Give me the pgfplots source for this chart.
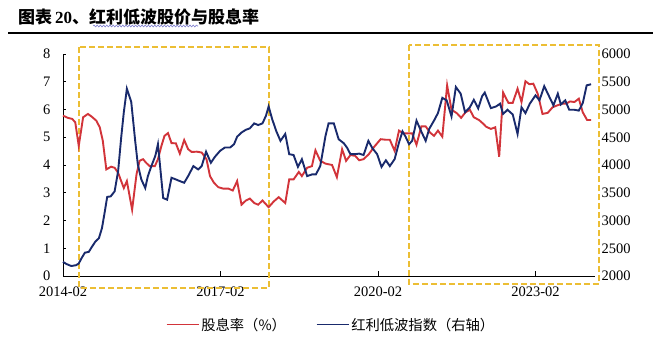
\documentclass[border=0pt]{standalone}
\usepackage{fontspec}
\setmainfont{Liberation Serif}
\newfontfamily\cjk{Noto Sans CJK SC}
\usepackage{pgfplots}
\pgfplotsset{compat=1.18}
\usepackage{pgfplotstable}
\usetikzlibrary{decorations.pathmorphing}
\definecolor{redline}{RGB}{210,52,58}
\definecolor{blueline}{RGB}{25,42,108}
\definecolor{boxorange}{RGB}{236,190,52}

\pgfplotstableread{
m y
0 5.78
1.1 5.70
2.1 5.66
2.8 5.54
3.6 4.69
4.6 5.72
5.7 5.84
6.5 5.75
7.6 5.60
8.4 5.36
9.1 4.87
9.9 3.84
11.0 3.94
11.8 3.90
12.6 3.72
13.3 3.42
13.9 3.17
14.6 3.42
15.8 2.39
16.8 3.66
17.5 4.15
18.3 4.21
19.0 4.08
19.8 3.96
21.0 3.96
21.7 4.21
22.5 4.69
23.2 5.05
24.0 5.15
24.8 4.79
25.8 4.78
26.7 4.41
27.7 4.90
28.6 4.57
29.4 4.47
30.6 4.48
31.7 4.45
32.8 4.21
33.6 3.60
34.5 3.36
35.5 3.20
36.6 3.15
37.8 3.15
38.8 3.08
39.8 3.42
40.8 2.57
41.8 2.72
42.7 2.79
43.7 2.63
44.6 2.57
45.6 2.72
47.0 2.48
48.2 2.69
49.3 2.84
50.8 2.63
51.7 3.48
52.7 3.48
53.9 3.75
54.6 3.60
55.8 3.90
56.9 3.96
57.7 4.53
58.8 4.15
60.0 4.05
61.5 4.00
62.6 3.56
63.8 4.57
64.7 4.15
65.7 4.36
66.8 4.33
67.7 4.17
68.7 4.21
69.9 4.39
71.1 4.65
72.6 4.93
73.8 4.91
74.7 4.91
75.8 4.51
76.8 5.24
77.8 5.14
78.7 5.14
79.8 5.14
80.8 4.73
81.9 5.39
82.9 5.39
83.9 5.17
84.8 5.05
85.7 5.24
86.7 5.02
87.8 6.87
88.8 5.99
90.0 5.87
91.0 5.70
92.0 5.90
93.0 5.99
93.9 5.72
95.1 5.62
96.1 5.48
96.7 5.38
97.8 5.30
98.8 5.36
99.7 4.30
100.6 6.61
101.8 6.24
102.8 6.24
103.9 6.75
104.8 6.27
105.7 7.02
106.6 6.91
107.5 6.93
108.5 6.57
109.6 5.84
110.8 5.88
111.9 6.08
113.0 6.15
114.1 6.21
115.0 6.21
115.9 6.29
116.9 6.27
117.9 6.39
118.8 5.90
119.8 5.62
120.7 5.62
}\yieldtable

\pgfplotstableread{
m y
0 2255
0.8 2215
1.9 2180
3.0 2195
3.6 2225
4.2 2315
5.0 2420
5.9 2435
6.6 2525
7.4 2620
8.2 2680
8.9 2860
9.5 3135
10.1 3425
10.9 3435
11.8 3525
12.6 3890
13.3 4495
13.9 4950
14.6 5375
15.6 5135
16.5 4435
17.1 4010
17.9 3740
18.8 3585
19.4 3800
20.2 3980
21.1 4165
21.7 4375
22.9 3405
23.8 3375
24.8 3770
25.8 3740
26.7 3710
27.7 3680
28.6 3800
29.8 3980
30.9 3920
31.7 3980
32.7 4240
33.8 4040
34.7 4145
35.9 4255
37.0 4315
38.2 4315
39.1 4375
39.8 4510
40.8 4585
41.8 4635
42.7 4660
43.7 4750
44.6 4720
45.6 4750
46.4 4890
47.0 5055
47.8 4830
48.7 4620
49.7 4435
50.8 4560
51.7 4195
52.7 4180
53.7 3965
54.6 4105
55.8 3800
56.9 3830
57.8 3830
58.8 3980
60.0 4525
60.7 4750
61.9 4750
63.0 4465
64.2 4390
64.9 4315
65.7 4195
66.7 4195
67.7 4205
68.7 4180
69.8 4435
70.7 4305
71.8 4195
72.8 3965
73.8 4085
74.7 3980
75.8 4105
76.8 4405
77.6 4605
78.3 4510
79.1 4375
79.8 4435
80.8 4800
81.8 4620
82.9 4435
83.7 4650
84.8 4800
85.7 4935
86.7 5210
87.7 5165
88.8 4875
89.8 5405
90.9 5285
91.9 4950
93.0 5040
93.9 5175
94.9 5020
95.8 5240
96.4 5305
97.8 5025
99.0 5055
99.9 5105
100.6 4920
101.6 4995
102.8 4910
103.9 4560
104.8 5040
105.7 4935
106.7 5105
108.0 5255
108.9 5165
110.0 5420
111.0 5255
112.1 5075
113.1 5285
113.8 5090
114.8 5165
115.7 4995
116.9 4995
117.9 4980
118.8 5115
119.7 5435
120.7 5455
}\indextable

\begin{document}
\begin{tikzpicture}
\path[use as bounding box] (0,0) rectangle (661bp,353bp);
% title
\node[anchor=west, inner sep=0pt, font=\fontsize{17bp}{20bp}\selectfont] at (18bp,336bp)
  {{\cjk\bfseries 图表}\hspace{3bp}{\bfseries 20}{\cjk\bfseries 、红利低波股价与股息率}};
\draw[line width=0.6bp, color=blue!45!gray!70, decorate, decoration={snake, amplitude=0.9bp, segment length=3.2bp}]
  (93bp,327bp) -- (198bp,327bp);
\draw[line width=1.2bp, black] (8bp,320bp) -- (653bp,320bp);

\begin{axis}[
  at={(63bp,77bp)}, anchor=south west,
  scale only axis, width=532bp, height=222bp,
  xmin=0, xmax=121.6, ymin=0, ymax=8,
  axis x line*=bottom, axis y line*=left,
  axis line style={line width=0.9bp, black},
  tick align=inside,
  xtick={0,36,72,108},
  xticklabels={2014-02,2017-02,2020-02,2023-02},
  ytick={0,1,...,8},
  xtick style={/pgfplots/major tick length=5bp, line width=0.8bp, black},
  ytick style={/pgfplots/major tick length=3bp, line width=0.8bp, black},
  /pgf/number format/assume math mode=true,
  ticklabel style={font=\fontsize{14.5bp}{16bp}\selectfont},
  yticklabel style={xshift=-9bp},
  xticklabel style={yshift=-7bp},
  clip=false,
]
\draw[boxorange, line width=2bp, dash pattern=on 6bp off 3bp]
  (axis cs:3.66,8.25) rectangle (axis cs:47.1,-0.43);
\draw[boxorange, line width=2bp, dash pattern=on 6bp off 3bp]
  (axis cs:79.1,8.32) rectangle (axis cs:122.5,-0.30);
\addplot[redline, line width=1.9bp] table[x=m,y=y] {\yieldtable};
\end{axis}

\begin{axis}[
  at={(63bp,77bp)}, anchor=south west,
  scale only axis, width=532bp, height=222bp,
  xmin=0, xmax=121.6, ymin=2000, ymax=6000,
  axis x line=none, axis y line*=right,
  y axis line style={draw=none},
  ytick={2000,2500,...,6000},
  ytick style={draw=none},
  /pgf/number format/assume math mode=true,
  /pgf/number format/1000 sep={},
  ticklabel style={font=\fontsize{14.5bp}{16bp}\selectfont},
  yticklabel style={xshift=3bp},
  clip=false,
  legend columns=2,
  legend style={at={(0.504,-0.22)}, anchor=center, draw=none, fill=none,
    font=\cjk\fontsize{14.3bp}{16bp}\selectfont,
    /tikz/every even column/.append style={column sep=28bp},
    inner sep=0pt},
  legend cell align=left,
  legend image code/.code={\draw[#1, line width=1.3bp] (0bp,0bp) -- (32bp,0bp);},
]
\addlegendimage{redline}
\addlegendentry{股息率（\%）}
\addplot[blueline, line width=1.9bp] table[x=m,y=y] {\indextable};
\addlegendentry{红利低波指数（右轴）}
\end{axis}
\end{tikzpicture}
\end{document}
